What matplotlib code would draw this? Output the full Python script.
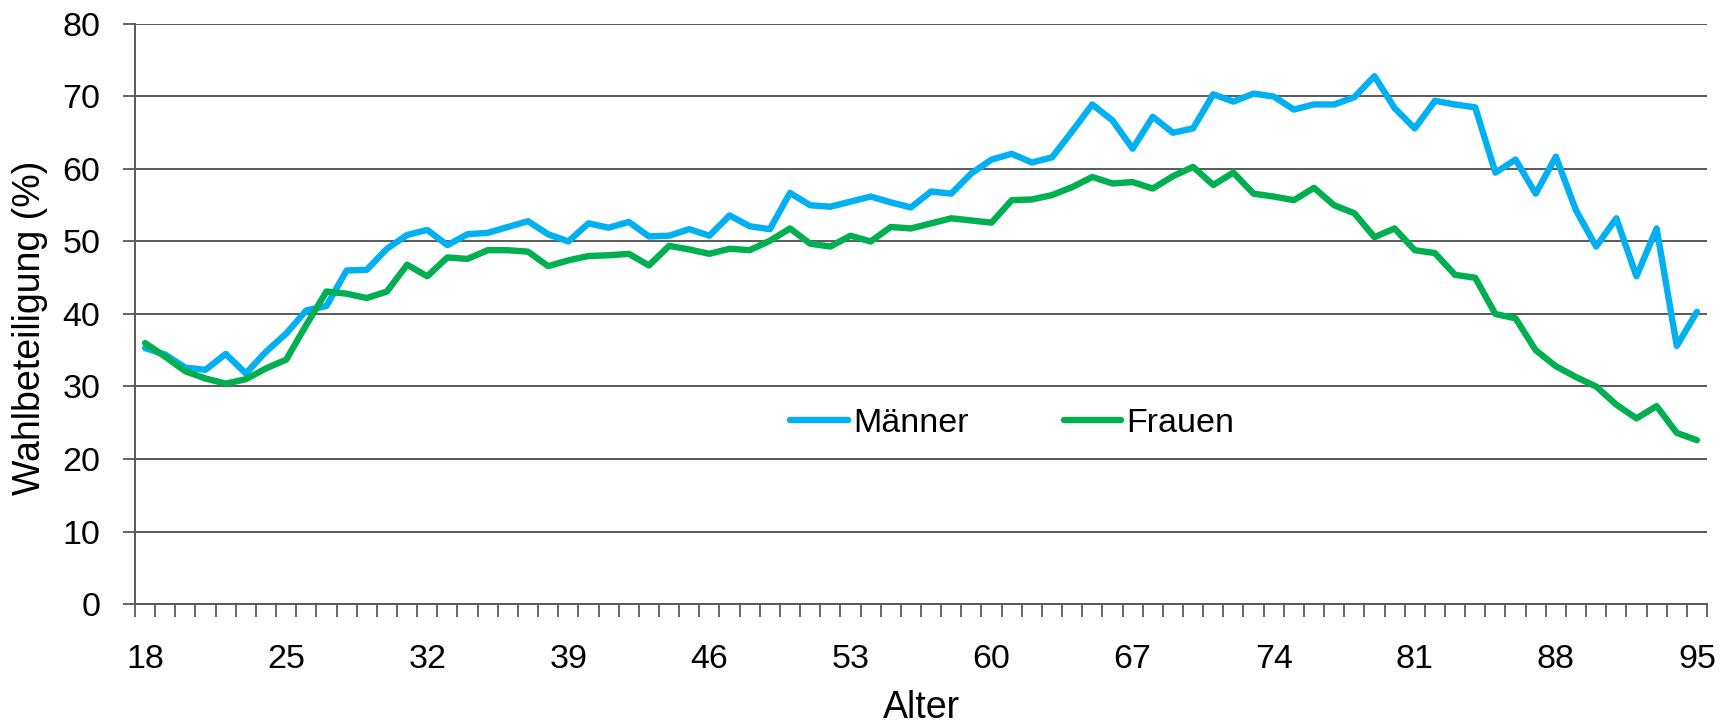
import numpy as np
import matplotlib
matplotlib.use("Agg")
import matplotlib.pyplot as plt

plt.rcParams['font.family'] = ['Liberation Sans', 'DejaVu Sans']

alter = list(range(18, 96))
maenner = [35.3, 34.4, 32.6, 32.3, 34.5, 31.8, 34.8, 37.3, 40.5, 41.1,
           46.0, 46.1, 49.0, 50.9, 51.6, 49.5, 51.0, 51.2, 52.0, 52.8,
           51.0, 50.0, 52.5, 51.9, 52.7, 50.7, 50.8, 51.7, 50.8, 53.6,
           52.1, 51.7, 56.7, 55.0, 54.8, 55.5, 56.2, 55.4, 54.7, 56.9,
           56.6, 59.4, 61.3, 62.1, 60.9, 61.6, 65.2, 68.9, 66.7, 62.8,
           67.2, 65.0, 65.6, 70.3, 69.3, 70.4, 70.0, 68.2, 68.9, 68.9,
           69.9, 72.8, 68.4, 65.6, 69.4, 68.9, 68.5, 59.5, 61.3, 56.6,
           61.7, 54.3, 49.3, 53.2, 45.2, 51.8, 35.6, 40.3]
frauen = [36.0, 34.1, 32.1, 31.1, 30.4, 31.0, 32.5, 33.7, 38.5, 43.1,
          42.8, 42.2, 43.1, 46.8, 45.2, 47.8, 47.6, 48.8, 48.8, 48.6,
          46.6, 47.4, 48.0, 48.1, 48.3, 46.7, 49.4, 48.9, 48.3, 49.0,
          48.8, 50.1, 51.8, 49.7, 49.3, 50.8, 50.0, 52.0, 51.8, 52.5,
          53.2, 52.9, 52.6, 55.7, 55.8, 56.4, 57.5, 58.9, 58.0, 58.2,
          57.3, 59.0, 60.3, 57.8, 59.5, 56.6, 56.2, 55.7, 57.4, 55.0,
          53.9, 50.6, 51.8, 48.8, 48.4, 45.4, 45.0, 40.0, 39.4, 35.0,
          32.8, 31.3, 30.0, 27.5, 25.6, 27.3, 23.6, 22.6]
x_labels = [18, 25, 32, 39, 46, 53, 60, 67, 74, 81, 88, 95]
y_ticks = [0, 10, 20, 30, 40, 50, 60, 70, 80]

W, H = 1735, 727
fig = plt.figure(figsize=(W / 100, H / 100), dpi=100)
L, R, T, B = 135, 1707, 24, 604
ax = fig.add_axes([L / W, 1 - B / H, (R - L) / W, (B - T) / H])

grid_c = '#595959'
ax.plot(alter, maenner, color='#00B0F0', lw=4.6, label='Männer',
        solid_joinstyle='round', solid_capstyle='round', zorder=3)
ax.plot(alter, frauen, color='#00B050', lw=4.6, label='Frauen',
        solid_joinstyle='round', solid_capstyle='round', zorder=3)

ax.set_xlim(17.5, 95.5)
ax.set_ylim(0, 80)
ax.set_yticks(y_ticks)
ax.yaxis.grid(True, color=grid_c, lw=1.4)
ax.set_axisbelow(True)

ax.set_xticks(x_labels)
ax.set_xticklabels([str(v) for v in x_labels])
ax.set_xticks(np.arange(17.5, 96, 1), minor=True)
ax.tick_params(axis='x', which='major', length=0, pad=29, labelsize=24.5)
ax.tick_params(axis='x', which='minor', length=9, width=1.3, color=grid_c,
               direction='out')
ax.tick_params(axis='y', which='major', length=9, width=1.3, color=grid_c,
               direction='out', pad=16, labelsize=24.5)

for s in ['top', 'right']:
    ax.spines[s].set_visible(False)
for s in ['left', 'bottom']:
    ax.spines[s].set_color(grid_c)
    ax.spines[s].set_linewidth(1.4)

ax.set_xlabel('Alter', fontsize=27)
ax.xaxis.set_label_coords(0.5, -(690 - B) / (B - T))
ax.set_ylabel('Wahlbeteiligung (%)', fontsize=27)
ax.yaxis.set_label_coords(-(L - 48) / (R - L), (B - 328) / (B - T))

leg = ax.legend(loc='center', bbox_to_anchor=(0.558, 0.312), ncol=2,
                frameon=False, fontsize=24.5, handlelength=1.7,
                handletextpad=0.15, columnspacing=2.8)

fig.savefig('out.png', dpi=100)
